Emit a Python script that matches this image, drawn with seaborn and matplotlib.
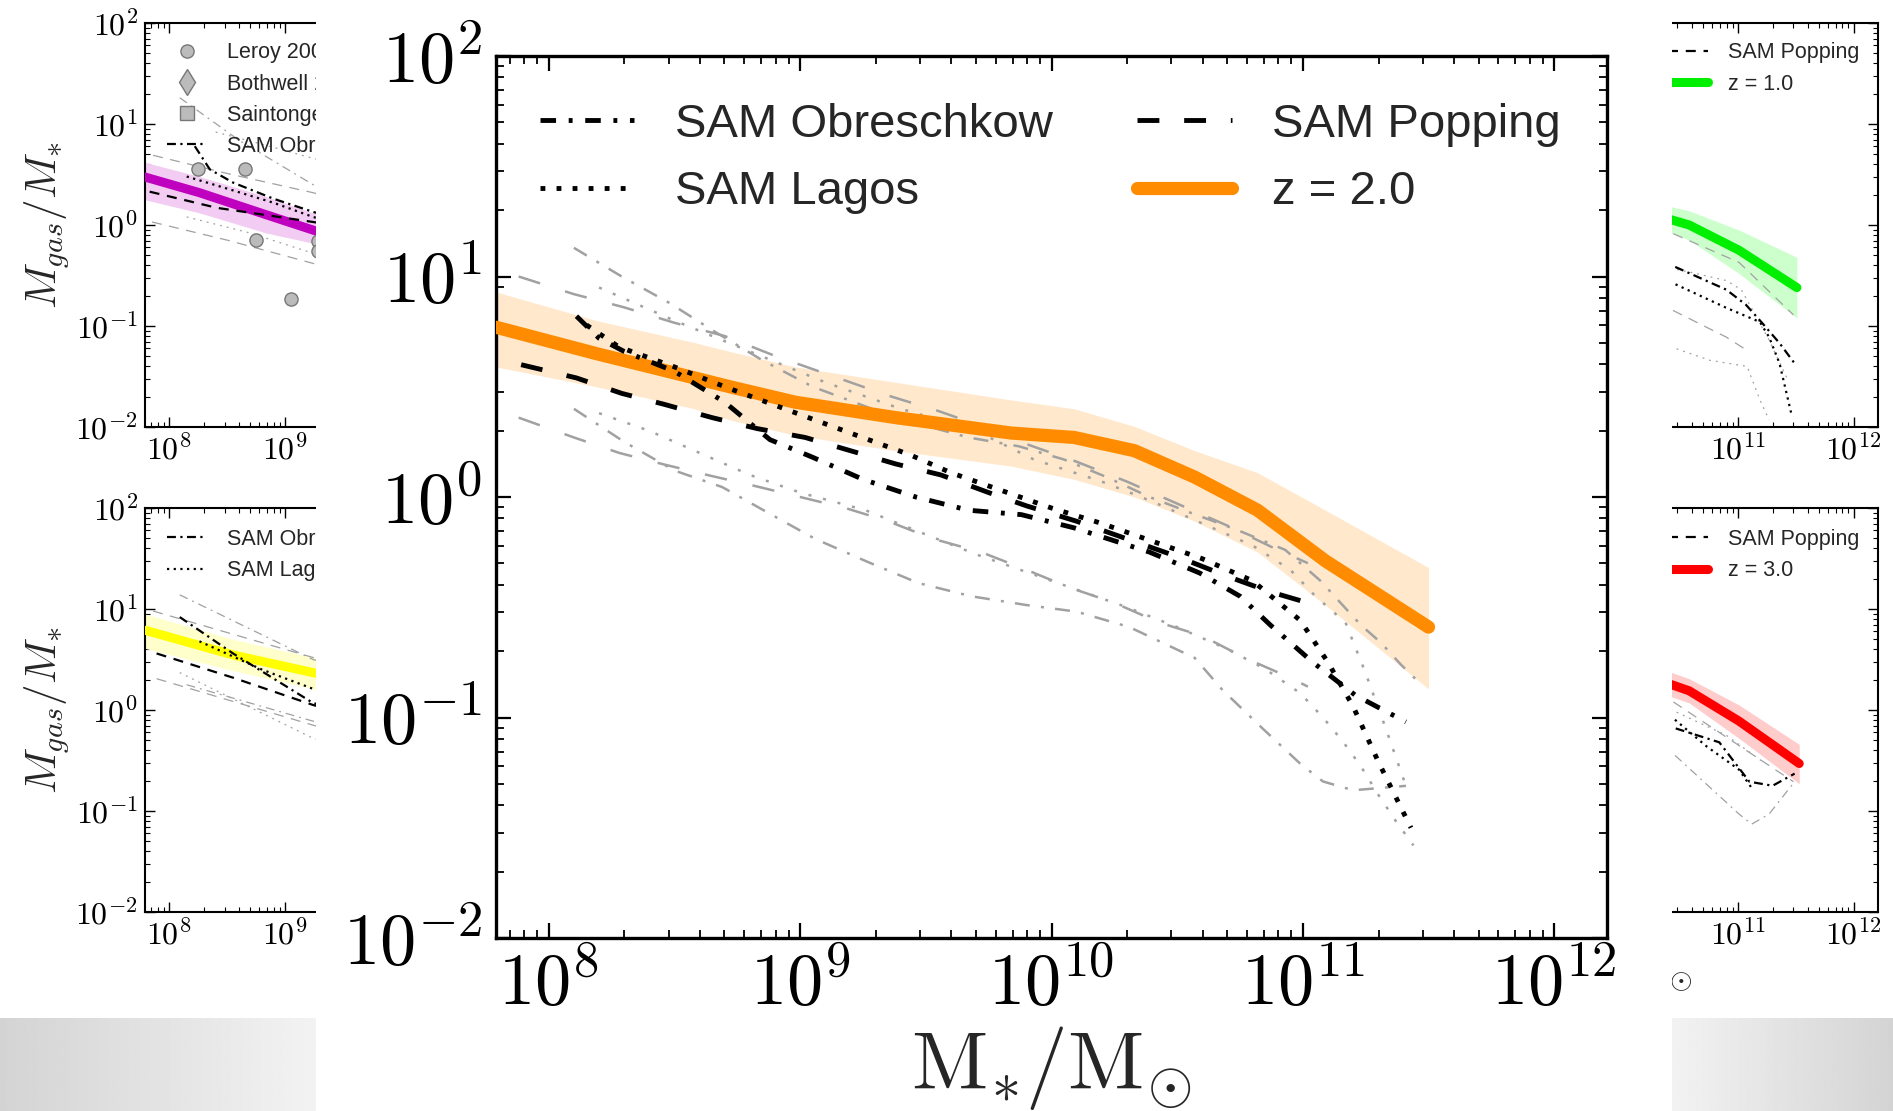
import numpy as np
import matplotlib
matplotlib.use("Agg")
import matplotlib.pyplot as plt
import seaborn as sns
from matplotlib.patches import Rectangle
from matplotlib.lines import Line2D
from matplotlib.ticker import FuncFormatter, LogLocator, NullFormatter

sns.set_style("ticks")
plt.rcParams["font.family"] = ["Liberation Sans", "DejaVu Sans"]
plt.rcParams["mathtext.fontset"] = "cm"

# ---------------- data (log10 M*, log10 Mgas/M*) ----------------
# central panel, z = 2.0
z2_m = [7.79, 8.19, 8.58, 8.72, 8.98, 9.38, 9.84, 10.09, 10.33, 10.57, 10.82, 11.09, 11.50]
z2_y = [0.77, 0.65, 0.54, 0.50, 0.43, 0.36, 0.29, 0.27, 0.21, 0.09, -0.06, -0.29, -0.59]
z2_hi = [0.93, 0.80, 0.70, 0.66, 0.59, 0.52, 0.44, 0.40, 0.32, 0.21, 0.11, -0.06, -0.32]
z2_lo = [0.59, 0.50, 0.40, 0.35, 0.28, 0.21, 0.14, 0.08, 0.00, -0.11, -0.25, -0.49, -0.87]

c_pop_m = [7.89, 8.11, 8.29, 8.46, 8.65, 8.83, 9.02, 9.20, 9.38, 9.56, 9.75, 9.90, 10.10, 10.30, 10.50, 10.70, 10.87, 11.02]
c_pop_y = [0.60, 0.54, 0.47, 0.42, 0.36, 0.31, 0.27, 0.21, 0.15, 0.10, 0.02, -0.04, -0.11, -0.19, -0.27, -0.36, -0.43, -0.48]
c_obr_m = [8.11, 8.20, 8.30, 8.50, 8.70, 8.88, 9.05, 9.25, 9.46, 9.67, 9.88, 10.09, 10.39, 10.59, 10.75, 10.87, 11.04, 11.21, 11.41]
c_obr_y = [0.82, 0.72, 0.66, 0.57, 0.43, 0.26, 0.18, 0.08, 0.00, -0.06, -0.08, -0.14, -0.25, -0.345, -0.45, -0.58, -0.75, -0.90, -1.02]
c_lag_m = [8.15, 8.28, 8.50, 8.70, 8.95, 9.20, 9.44, 9.60, 9.80, 10.00, 10.20, 10.40, 10.60, 10.80, 10.99, 11.10, 11.20, 11.30, 11.43]
c_lag_y = [0.78, 0.68, 0.59, 0.50, 0.395, 0.29, 0.19, 0.11, 0.03, -0.05, -0.12, -0.20, -0.28, -0.38, -0.56, -0.75, -0.95, -1.20, -1.50]

c_pop_hi_m = [7.88, 8.10, 8.30, 8.50, 8.70, 8.90, 9.10, 9.35, 9.55, 9.75, 9.90, 10.10, 10.30, 10.50, 10.70, 10.90, 11.02]
c_pop_hi_y = [1.00, 0.92, 0.86, 0.79, 0.73, 0.64, 0.56, 0.46, 0.39, 0.31, 0.24, 0.16, 0.07, -0.03, -0.13, -0.24, -0.30]
c_pop_lo_m = [7.88, 8.10, 8.28, 8.45, 8.63, 8.82, 9.00, 9.18, 9.35, 9.53, 9.72, 9.90, 10.07, 10.25, 10.43, 10.60, 10.77, 10.95, 11.02]
c_pop_lo_y = [0.36, 0.27, 0.20, 0.15, 0.10, 0.05, 0.00, -0.05, -0.11, -0.19, -0.25, -0.33, -0.41, -0.48, -0.57, -0.63, -0.73, -0.82, -0.86]
c_obr_hi_m = [8.10, 8.29, 8.48, 8.66, 8.85, 9.05, 9.38, 9.67, 9.87, 10.05, 10.22, 10.39, 10.55, 10.74, 10.93, 11.07, 11.23, 11.31, 11.39, 11.47]
c_obr_hi_y = [1.13, 1.00, 0.88, 0.75, 0.62, 0.50, 0.36, 0.27, 0.23, 0.17, 0.09, 0.00, -0.07, -0.15, -0.24, -0.38, -0.58, -0.66, -0.76, -0.85]
c_obr_lo_m = [8.10, 8.30, 8.50, 8.69, 8.87, 9.06, 9.27, 9.47, 9.68, 9.90, 10.10, 10.31, 10.57, 10.68, 10.84, 10.99, 11.08, 11.20, 11.41]
c_obr_lo_y = [0.40, 0.25, 0.12, 0.045, -0.07, -0.19, -0.295, -0.39, -0.45, -0.49, -0.52, -0.59, -0.73, -0.875, -1.05, -1.21, -1.29, -1.33, -1.31]
c_lag_hi_m = [8.20, 8.50, 8.80, 9.10, 9.40, 9.70, 9.93, 10.20, 10.40, 10.60, 10.80, 10.95, 11.05, 11.17, 11.25, 11.33, 11.41]
c_lag_hi_y = [0.95, 0.80, 0.66, 0.52, 0.40, 0.30, 0.17, 0.07, -0.02, -0.12, -0.22, -0.33, -0.45, -0.57, -0.80, -1.05, -1.31]
c_lag_lo_m = [8.20, 8.40, 8.60, 8.80, 9.00, 9.26, 9.50, 9.70, 9.90, 10.10, 10.30, 10.50, 10.70, 10.85, 10.99, 11.08, 11.16, 11.23, 11.30, 11.37, 11.44]
c_lag_lo_y = [0.38, 0.30, 0.20, 0.10, 0.02, -0.06, -0.17, -0.26, -0.34, -0.42, -0.50, -0.59, -0.69, -0.78, -0.89, -1.00, -1.11, -1.22, -1.35, -1.47, -1.58]

# top-left panel (magenta)
z0_m = [7.79, 8.26, 8.84, 9.24, 9.40]
z0_y = [0.475, 0.32, 0.10, -0.05, -0.11]
z0_hi = [0.62, 0.48, 0.28, 0.12, 0.06]
z0_lo = [0.25, 0.12, -0.08, -0.18, -0.24]
tl_pop_m, tl_pop_y = [7.83, 8.41, 9.24, 9.40], [0.33, 0.17, 0.03, 0.00]
tl_obr_m, tl_obr_y = [8.22, 8.35, 8.55, 8.90, 9.24, 9.40], [0.78, 0.55, 0.42, 0.26, 0.13, 0.08]
tl_lag_m, tl_lag_y = [8.15, 8.50, 8.90, 9.24, 9.40], [0.48, 0.36, 0.22, 0.08, 0.03]
tl_pop_hi_m, tl_pop_hi_y = [7.86, 8.50, 9.24, 9.40], [0.69, 0.51, 0.32, 0.27]
tl_pop_lo_m, tl_pop_lo_y = [7.85, 8.50, 9.24, 9.40], [0.03, -0.15, -0.38, -0.43]
tl_obr_hi_m, tl_obr_hi_y = [8.09, 8.60, 9.24, 9.40], [1.26, 0.84, 0.40, 0.32]
tl_lag_hi_m, tl_lag_hi_y = [8.40, 8.80, 9.24, 9.40], [0.92, 0.80, 0.66, 0.62]
tl_lag_lo_m, tl_lag_lo_y = [8.15, 8.70, 9.24, 9.40], [0.08, -0.08, -0.28, -0.33]
leroy_m = [8.25, 8.65, 8.75, 9.05, 9.28, 9.28]
leroy_y = [0.555, 0.555, -0.15, -0.73, -0.16, -0.26]

# bottom-left panel (yellow)
zb_m = [7.79, 8.55, 9.24, 9.40]
zb_y = [0.79, 0.545, 0.37, 0.33]
zb_hi = [0.95, 0.70, 0.52, 0.48]
zb_lo = [0.61, 0.39, 0.21, 0.17]
bl_pop_m, bl_pop_y = [7.89, 8.55, 9.24, 9.40], [0.56, 0.32, 0.05, 0.00]
bl_obr_m, bl_obr_y = [8.09, 8.55, 9.24, 9.40], [0.92, 0.56, 0.07, 0.02]
bl_lag_m, bl_lag_y = [8.26, 8.80, 9.24, 9.40], [0.68, 0.40, 0.21, 0.16]
bl_obr_hi_m, bl_obr_hi_y = [8.09, 9.24, 9.40], [1.14, 0.50, 0.45]
bl_pop_hi_m, bl_pop_hi_y = [7.86, 9.24, 9.40], [0.98, 0.52, 0.47]
bl_pop_lo_m, bl_pop_lo_y = [7.89, 9.24, 9.40], [0.31, -0.15, -0.20]
bl_lag_lo_m, bl_lag_lo_y = [8.09, 9.24, 9.40], [0.37, -0.28, -0.33]
bl_obr_lo_m, bl_obr_lo_y = [8.15, 9.24, 9.40], [0.25, -0.11, -0.16]

# top-right panel (green, z = 1.0)
z1_m = [10.30, 10.43, 10.58, 11.01, 11.51]
z1_y = [0.10, 0.05, 0.00, -0.25, -0.62]
z1_hi = [0.22, 0.18, 0.14, -0.05, -0.32]
z1_lo = [-0.03, -0.08, -0.15, -0.48, -0.92]
tr_obr_m, tr_obr_y = [10.30, 10.43, 10.90, 11.07, 11.21, 11.36, 11.49], [-0.34, -0.40, -0.64, -0.79, -0.97, -1.17, -1.37]
tr_lag_m, tr_lag_y = [10.30, 10.43, 10.90, 11.19, 11.27, 11.36, 11.46], [-0.52, -0.57, -0.82, -0.96, -1.11, -1.37, -1.86]
tr_pop_hi_m, tr_pop_hi_y = [10.30, 10.43, 11.01, 11.48], [-0.03, -0.08, -0.37, -0.89]
tr_pop_lo_m, tr_pop_lo_y = [10.30, 10.43, 10.90, 11.05], [-0.78, -0.84, -1.11, -1.22]
tr_lag_lo_m, tr_lag_lo_y = [10.30, 10.43, 10.76, 11.08, 11.19, 11.27], [-1.17, -1.21, -1.34, -1.40, -1.73, -1.93]
tr_lag_hi_m, tr_lag_hi_y = [10.30, 10.60, 10.90, 11.03, 11.27, 11.43], [-0.40, -0.47, -0.55, -0.64, -1.14, -1.53]

# bottom-right panel (red, z = 3.0)
z3_m = [10.30, 10.43, 10.58, 11.01, 11.53]
z3_y = [0.30, 0.25, 0.19, -0.11, -0.53]
z3_hi = [0.42, 0.37, 0.31, 0.05, -0.34]
z3_lo = [0.18, 0.13, 0.07, -0.28, -0.73]
br_obr_m, br_obr_y = [10.30, 10.43, 10.84, 11.10, 11.30, 11.49], [-0.12, -0.17, -0.32, -0.71, -0.75, -0.63]
br_lag_m, br_lag_y = [10.30, 10.43, 10.73, 11.01, 11.13], [-0.02, -0.07, -0.36, -0.59, -0.79]
br_pop_hi_m, br_pop_hi_y = [10.30, 10.43, 11.48], [0.13, 0.09, -0.71]
br_obr_lo_m, br_obr_lo_y = [10.30, 10.43, 11.01, 11.12, 11.27, 11.49], [-0.36, -0.42, -1.03, -1.13, -1.03, -0.71]
br_lag_hi_m, br_lag_hi_y = [10.30, 10.43, 10.90, 11.20], [0.03, 0.00, -0.25, -0.50]

XLIM = (10 ** 7.79, 10 ** 12.21)
YLIM = (1e-2, 1e2)

# ---------------- helpers ----------------
W, H = 1893, 1111


def frac(l, t, r, b):
    return [l / W, 1 - b / H, (r - l) / W, (b - t) / H]


def line(ax, m, y, color, lw, dashes=None, z=3):
    ls = "-" if dashes is None else (0, dashes)
    sns.lineplot(x=10 ** np.asarray(m), y=10 ** np.asarray(y), ax=ax, color=color,
                 linewidth=lw, linestyle=ls, sort=False, estimator=None,
                 legend=False, zorder=z)


def band(ax, m, lo, hi, color):
    ax.fill_between(10 ** np.asarray(m), 10 ** np.asarray(lo), 10 ** np.asarray(hi),
                    color=color, lw=0, zorder=1)


def setup(ax, big):
    ax.set_xscale("log")
    ax.set_yscale("log")
    ax.set_xlim(*XLIM)
    ax.set_ylim(*YLIM)
    for a in (ax.xaxis, ax.yaxis):
        a.set_major_locator(LogLocator(base=10, numticks=20))
        a.set_minor_locator(LogLocator(base=10, subs=np.arange(2, 10) * 1.0, numticks=100))
        a.set_minor_formatter(NullFormatter())
    if big:
        fmt = FuncFormatter(lambda v, p: r"$\mathrm{10^{%d}}$" % int(round(np.log10(v))))
        ax.tick_params(which="major", length=11, width=1.6, labelsize=52, pad=10)
        ax.tick_params(which="minor", length=6, width=1.3)
        lw = 2.4
    else:
        fmt = FuncFormatter(lambda v, p: r"$\mathbf{10^{%d}}$" % int(round(np.log10(v))))
        ax.tick_params(which="major", length=7, width=1.0, labelsize=23, pad=5)
        ax.tick_params(which="minor", length=3.5, width=0.8)
        lw = 1.5
    ax.xaxis.set_major_formatter(fmt)
    ax.yaxis.set_major_formatter(fmt)
    ax.tick_params(which="both", direction="in", top=True, right=True, colors="black")
    for s in ax.spines.values():
        s.set_linewidth(lw)
        s.set_color("black")
    ax.set_facecolor("white")


# line styles
BK_B, GR_B = 3.5, 1.8
D_DASH_B, D_DD_B, D_DOT_B = (4.5, 5.1), (3.2, 2.6, 0.8, 2.6), (1.0, 2.3)
G_DASH_B, G_DD_B, G_DOT_B = (9.0, 10.5), (6.0, 4.5, 1.2, 4.5), (1.2, 4.8)
BK_S, GR_S = 1.6, 0.9
D_DASH_S, D_DD_S, D_DOT_S = (4.5, 3.5), (4.0, 2.0, 1.0, 2.0), (1.0, 2.0)
G_DASH_S, G_DD_S, G_DOT_S = (8.0, 6.0), (7.0, 4.0, 1.5, 4.0), (1.5, 4.0)
GRAY = "0.63"

fig = plt.figure(figsize=(W / 100, H / 100), dpi=100)
fig.patch.set_facecolor("white")

ax_tl = fig.add_axes(frac(145, 23, 657, 427), zorder=0)
ax_bl = fig.add_axes(frac(145, 508, 657, 912), zorder=0)
ax_tr = fig.add_axes(frac(1366, 23, 1878, 427), zorder=0)
ax_br = fig.add_axes(frac(1366, 508, 1878, 912), zorder=0)
for a in (ax_tl, ax_bl, ax_tr, ax_br):
    setup(a, False)

leg_s = dict(loc="upper left", frameon=False, fontsize=15.5, borderpad=0, borderaxespad=0,
             handlelength=1.86, handletextpad=0.93, labelspacing=0.47)
YLAB = r"$M_{gas}/M_{*}$"

# --- top-left
band(ax_tl, z0_m, z0_lo, z0_hi, "#f2ccf2")
line(ax_tl, tl_pop_hi_m, tl_pop_hi_y, GRAY, GR_S, G_DASH_S, 2)
line(ax_tl, tl_pop_lo_m, tl_pop_lo_y, GRAY, GR_S, G_DASH_S, 2)
line(ax_tl, tl_obr_hi_m, tl_obr_hi_y, GRAY, GR_S, G_DD_S, 2)
line(ax_tl, tl_lag_hi_m, tl_lag_hi_y, GRAY, GR_S, G_DOT_S, 2)
line(ax_tl, tl_lag_lo_m, tl_lag_lo_y, GRAY, GR_S, G_DOT_S, 2)
line(ax_tl, z0_m, z0_y, "#bf00bf", 6.5)
line(ax_tl, tl_pop_m, tl_pop_y, "black", BK_S, D_DASH_S, 4)
line(ax_tl, tl_obr_m, tl_obr_y, "black", BK_S, D_DD_S, 4)
line(ax_tl, tl_lag_m, tl_lag_y, "black", BK_S, D_DOT_S, 4)
sns.scatterplot(x=10 ** np.asarray(leroy_m), y=10 ** np.asarray(leroy_y), ax=ax_tl, s=90,
                color="#bbbbbb", edgecolor="#777777", linewidth=1.0, zorder=5, legend=False)
mk = dict(ls="none", mfc="#bbbbbb", mec="#777777", mew=1.0)
h_tl = [Line2D([], [], marker="o", ms=9.5, **mk),
        Line2D([], [], marker="d", ms=13, **mk),
        Line2D([], [], marker="s", ms=10.5, **mk),
        Line2D([], [], color="black", lw=BK_S, ls=(0, D_DD_S))]
ax_tl.legend(h_tl, ["Leroy 2008", "Bothwell 2014", "Saintonge 2011", "SAM Obreschkow"],
             bbox_to_anchor=(0.043, 0.952), **leg_s)
ax_tl.set_ylabel(YLAB, fontsize=31)
ax_tl.yaxis.set_label_coords(-0.142, 0.5)

# --- bottom-left
band(ax_bl, zb_m, zb_lo, zb_hi, "#ffffcc")
line(ax_bl, bl_obr_hi_m, bl_obr_hi_y, GRAY, GR_S, G_DD_S, 2)
line(ax_bl, bl_pop_hi_m, bl_pop_hi_y, GRAY, GR_S, G_DASH_S, 2)
line(ax_bl, bl_pop_lo_m, bl_pop_lo_y, GRAY, GR_S, G_DASH_S, 2)
line(ax_bl, bl_lag_lo_m, bl_lag_lo_y, GRAY, GR_S, G_DOT_S, 2)
line(ax_bl, bl_obr_lo_m, bl_obr_lo_y, GRAY, GR_S, G_DD_S, 2)
line(ax_bl, zb_m, zb_y, "#ffff00", 6.5)
line(ax_bl, bl_pop_m, bl_pop_y, "black", BK_S, D_DASH_S, 4)
line(ax_bl, bl_obr_m, bl_obr_y, "black", BK_S, D_DD_S, 4)
line(ax_bl, bl_lag_m, bl_lag_y, "black", BK_S, D_DOT_S, 4)
h_bl = [Line2D([], [], color="black", lw=BK_S, ls=(0, D_DD_S)),
        Line2D([], [], color="black", lw=BK_S, ls=(0, D_DOT_S))]
ax_bl.legend(h_bl, ["SAM Obreschkow", "SAM Lagos"], bbox_to_anchor=(0.043, 0.948), **leg_s)
ax_bl.set_ylabel(YLAB, fontsize=31)
ax_bl.yaxis.set_label_coords(-0.142, 0.5)
ax_bl.set_xlabel(r"$\mathrm{M_{*}/M_{\odot}}$", fontsize=30)
ax_bl.xaxis.set_label_coords(0.5, -0.09)

# --- top-right
band(ax_tr, z1_m, z1_lo, z1_hi, "#ccffcc")
line(ax_tr, tr_pop_hi_m, tr_pop_hi_y, GRAY, GR_S, G_DASH_S, 2)
line(ax_tr, tr_pop_lo_m, tr_pop_lo_y, GRAY, GR_S, G_DASH_S, 2)
line(ax_tr, tr_lag_lo_m, tr_lag_lo_y, GRAY, GR_S, G_DOT_S, 2)
line(ax_tr, tr_lag_hi_m, tr_lag_hi_y, GRAY, GR_S, G_DOT_S, 2)
line(ax_tr, z1_m, z1_y, "#00ee00", 6.5)
line(ax_tr, tr_obr_m, tr_obr_y, "black", BK_S, D_DD_S, 4)
line(ax_tr, tr_lag_m, tr_lag_y, "black", BK_S, D_DOT_S, 4)
h_tr = [Line2D([], [], color="black", lw=BK_S, ls=(0, D_DASH_S)),
        Line2D([], [], color="#00ee00", lw=6.5)]
ax_tr.legend(h_tr, ["SAM Popping", "z = 1.0"], bbox_to_anchor=(0.59, 0.952), **leg_s)

# --- bottom-right
band(ax_br, z3_m, z3_lo, z3_hi, "#ffcccc")
line(ax_br, br_pop_hi_m, br_pop_hi_y, GRAY, GR_S, G_DASH_S, 2)
line(ax_br, br_obr_lo_m, br_obr_lo_y, GRAY, GR_S, G_DD_S, 2)
line(ax_br, br_lag_hi_m, br_lag_hi_y, GRAY, GR_S, G_DOT_S, 2)
line(ax_br, z3_m, z3_y, "#ff0000", 6.5)
line(ax_br, br_obr_m, br_obr_y, "black", BK_S, D_DD_S, 4)
line(ax_br, br_lag_m, br_lag_y, "black", BK_S, D_DOT_S, 4)
h_br = [Line2D([], [], color="black", lw=BK_S, ls=(0, D_DASH_S)),
        Line2D([], [], color="#ff0000", lw=6.5)]
ax_br.legend(h_br, ["SAM Popping", "z = 3.0"], bbox_to_anchor=(0.59, 0.948), **leg_s)
ax_br.set_xlabel(r"$\mathrm{M_{*}/M_{\odot}}$", fontsize=30)
ax_br.xaxis.set_label_coords(0.5, -0.09)

# --- white cover behind the enlarged panel + grey slide bars
fig.add_artist(Rectangle((316 / W, 0), (1672 - 316) / W, 1, transform=fig.transFigure,
                         facecolor="white", edgecolor="none", zorder=1))
grad = np.linspace(0.83, 0.95, 256)
for (l, r, g) in ((0, 316, grad), (1672, 1893, grad[::-1])):
    gax = fig.add_axes(frac(l, 1018, r, 1111), zorder=1)
    gax.imshow(np.tile(g, (8, 1)), cmap="gray", vmin=0, vmax=1, aspect="auto")
    gax.set_axis_off()

# --- central enlarged panel (z = 2.0)
ax = fig.add_axes(frac(496, 56, 1607, 938), zorder=2)
setup(ax, True)
band(ax, z2_m, z2_lo, z2_hi, "#ffe8cc")
for m, y, d in ((c_pop_hi_m, c_pop_hi_y, G_DASH_B), (c_pop_lo_m, c_pop_lo_y, G_DASH_B),
                (c_obr_hi_m, c_obr_hi_y, G_DD_B), (c_obr_lo_m, c_obr_lo_y, G_DD_B),
                (c_lag_hi_m, c_lag_hi_y, G_DOT_B), (c_lag_lo_m, c_lag_lo_y, G_DOT_B)):
    line(ax, m, y, GRAY, GR_B, d, 2)
line(ax, z2_m, z2_y, "#ff8c00", 9.5, None, 3)
line(ax, c_pop_m, c_pop_y, "black", BK_B, D_DASH_B, 4)
line(ax, c_obr_m, c_obr_y, "black", BK_B, D_DD_B, 4)
line(ax, c_lag_m, c_lag_y, "black", BK_B, D_DOT_B, 4)
h_c = [Line2D([], [], color="black", lw=BK_B, ls=(0, D_DD_B)),
       Line2D([], [], color="black", lw=BK_B, ls=(0, D_DOT_B)),
       Line2D([], [], color="black", lw=BK_B, ls=(0, D_DASH_B)),
       Line2D([], [], color="#ff8c00", lw=9.5)]
ax.legend(h_c, ["SAM Obreschkow", "SAM Lagos", "SAM Popping", "z = 2.0"], ncol=2,
          loc="upper left", bbox_to_anchor=(0.0396, 0.947), frameon=False, fontsize=34,
          borderpad=0, borderaxespad=0, handlelength=2.0, handletextpad=0.85,
          columnspacing=1.8, labelspacing=0.5)
ax.set_xlabel(r"$\mathrm{M_{*}/M_{\odot}}$", fontsize=60)
ax.xaxis.set_label_coords(0.5, -0.097)

fig.savefig("out.png", dpi=100)
